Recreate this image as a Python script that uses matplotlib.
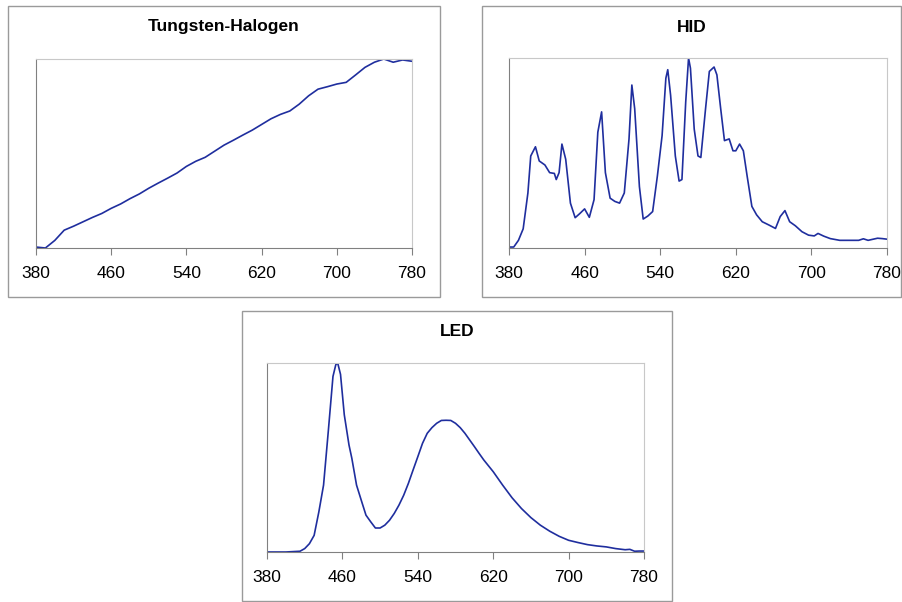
import numpy as np
import matplotlib.pyplot as plt
from matplotlib.patches import Rectangle

plt.rcParams['font.family'] = ['Liberation Sans', 'DejaVu Sans']

# spectra, relative intensity (0..1)
tungsten_nm = [380, 390, 400, 410, 420, 430, 440, 450, 460, 470, 480, 490, 500,
               510, 520, 530, 540, 550, 560, 570, 580, 590, 600, 610, 620, 630,
               640, 650, 660, 670, 680, 690, 700, 710, 720, 730, 740, 750, 760,
               770, 780]
tungsten_val = [0.005, 0.0, 0.04, 0.094, 0.115, 0.138, 0.161, 0.182, 0.209, 0.232,
                0.26, 0.285, 0.315, 0.342, 0.368, 0.395, 0.43, 0.457, 0.478, 0.51,
                0.542, 0.568, 0.595, 0.621, 0.651, 0.681, 0.704, 0.722, 0.758,
                0.802, 0.837, 0.85, 0.864, 0.873, 0.912, 0.952, 0.979, 0.996,
                0.979, 0.991, 0.984]

hid_nm = [380, 385, 390, 395, 400, 403, 408, 412, 418, 423, 428, 430, 433, 436,
          440, 445, 450, 455, 460, 465, 470, 474, 478, 482, 487, 492, 497, 502,
          507, 510, 513, 518, 522, 527, 532, 537, 542, 546, 548, 551, 556, 560,
          563, 567, 570, 572, 576, 580, 583, 588, 592, 597, 600, 604, 608, 613,
          617, 620, 624, 628, 632, 637, 642, 648, 655, 662, 667, 672, 677, 683,
          690, 697, 703, 707, 713, 720, 730, 740, 750, 755, 760, 770, 775, 780]
hid_val = [0.005, 0.005, 0.04, 0.10, 0.287, 0.48, 0.528, 0.454, 0.433, 0.393,
           0.389, 0.357, 0.393, 0.542, 0.463, 0.234, 0.158, 0.18, 0.204, 0.16,
           0.252, 0.604, 0.71, 0.393, 0.26, 0.243, 0.234, 0.287, 0.569, 0.85,
           0.727, 0.32, 0.151, 0.167, 0.19, 0.375, 0.586, 0.886, 0.93, 0.797,
           0.48, 0.349, 0.357, 0.762, 0.991, 0.938, 0.62, 0.48, 0.472, 0.727,
           0.921, 0.944, 0.903, 0.727, 0.56, 0.569, 0.507, 0.507, 0.542, 0.507,
           0.375, 0.217, 0.173, 0.137, 0.12, 0.102, 0.164, 0.195, 0.137, 0.116,
           0.085, 0.067, 0.063, 0.076, 0.062, 0.049, 0.04, 0.04, 0.04, 0.048,
           0.04, 0.051, 0.049, 0.046]

led_nm = [380, 400, 415, 420, 425, 430, 435, 440, 445, 450, 453, 455, 458, 462,
          467, 470, 475, 480, 485, 490, 495, 500, 505, 510, 515, 520, 525, 530,
          535, 540, 545, 550, 555, 560, 565, 570, 575, 580, 585, 590, 595, 600,
          605, 610, 620, 630, 640, 650, 660, 670, 680, 690, 700, 710, 720, 730,
          740, 750, 760, 765, 770, 775, 780]
led_val = [0.0, 0.0, 0.004, 0.018, 0.044, 0.088, 0.212, 0.354, 0.637, 0.929,
           0.991, 1.0, 0.94, 0.726, 0.566, 0.496, 0.354, 0.274, 0.195, 0.16,
           0.127, 0.127, 0.142, 0.168, 0.204, 0.248, 0.30, 0.363, 0.434, 0.504,
           0.575, 0.628, 0.658, 0.681, 0.696, 0.697, 0.696, 0.681, 0.658, 0.628,
           0.593, 0.558, 0.522, 0.487, 0.425, 0.354, 0.287, 0.23, 0.182, 0.142,
           0.11, 0.083, 0.062, 0.05, 0.039, 0.032, 0.027, 0.018, 0.012, 0.014,
           0.004, 0.005, 0.005]

ticks = [380, 460, 540, 620, 700, 780]

W, H = 902, 602
fig = plt.figure(figsize=(W / 100, H / 100), dpi=100)


def px_rect(x0, y0, x1, y1):
    # pixel box (top-left origin) -> figure fraction [l, b, w, h]
    return [x0 / W, 1 - y1 / H, (x1 - x0) / W, (y1 - y0) / H]


def panel(box, plot, title_y, title, nm, val):
    l, b, w, h = px_rect(*box)
    fig.patches.append(Rectangle((l, b), w, h, transform=fig.transFigure,
                                 fill=False, edgecolor='#9a9a9a', lw=1.0))
    ax = fig.add_axes(px_rect(*plot))
    ax.plot(nm, val, color='#1F2E9E', lw=1.2)
    ax.set_xlim(380, 780)
    ax.set_ylim(0, max(val))
    ax.set_xticks(ticks)
    ax.set_yticks([])
    ax.tick_params(axis='x', direction='out', length=5, width=0.8,
                   color='#808080', labelsize=12.5, pad=8)
    for s in ['top', 'right']:
        ax.spines[s].set_color('#c8c8c8')
        ax.spines[s].set_linewidth(0.8)
    for s in ['left', 'bottom']:
        ax.spines[s].set_color('#808080')
        ax.spines[s].set_linewidth(0.8)
    fig.text(l + w / 2, 1 - title_y / H, title, ha='center', va='center',
             fontsize=12.5, fontweight='bold')
    return ax


panel((8, 6, 440, 297), (36, 59, 412, 248), 27, 'Tungsten-Halogen', tungsten_nm, tungsten_val)
panel((482, 6, 901, 297), (509, 58, 887, 248), 27, 'HID', hid_nm, hid_val)
panel((242, 311, 672, 601), (267, 363, 644, 552), 332, 'LED', led_nm, led_val)

fig.savefig('out.png', dpi=100)
